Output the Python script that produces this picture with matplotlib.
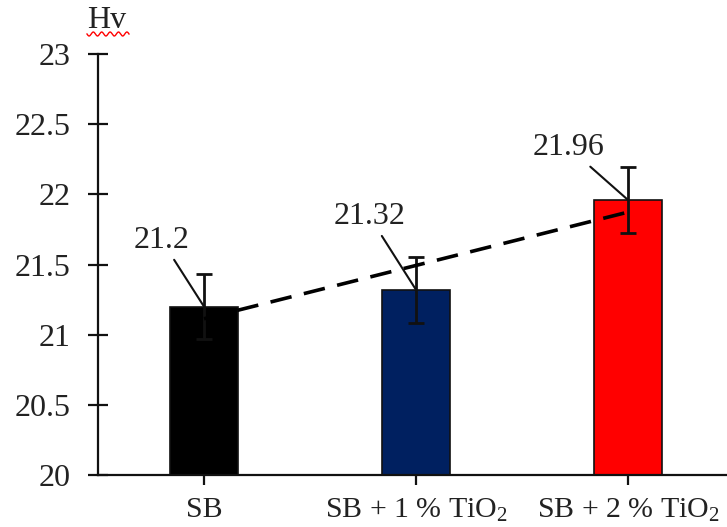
import numpy as np
import matplotlib
matplotlib.use("Agg")
import matplotlib.pyplot as plt

categories = ["SB", "SB + 1 % TiO$_2$", "SB + 2 % TiO$_2$"]
values = [21.2, 21.32, 21.96]
errors = [0.23, 0.235, 0.235]
colors = ["#000000", "#002060", "#FF0000"]
value_labels = ["21.2", "21.32", "21.96"]
yticks = [20, 20.5, 21, 21.5, 22, 22.5, 23]
ytick_labels = ["20", "20.5", "21", "21.5", "22", "22.5", "23"]

plt.rcParams["font.family"] = ["Liberation Serif", "DejaVu Serif"]
plt.rcParams["mathtext.fontset"] = "custom"
plt.rcParams["mathtext.rm"] = "Liberation Serif"
plt.rcParams["mathtext.it"] = "Liberation Serif:italic"

W, H = 727, 527
fig = plt.figure(figsize=(W / 100, H / 100), dpi=100)
ax = fig.add_axes([98 / W, 1 - 475 / H, 1 - 98 / W, (475 - 54) / H])

x = np.arange(len(categories))
ax.bar(x, values, width=0.32, color=colors, edgecolor="#111111", linewidth=1.2, zorder=2)
ax.errorbar(x, values, yerr=errors, fmt="none", ecolor="#111111", elinewidth=2,
            capsize=5.5, capthick=2, zorder=3)

# linear trendline
coef = np.polyfit(x, values, 1)
tx = np.array([x[0], x[-1]])
ax.plot(tx, np.polyval(coef, tx), linestyle=(0, (6, 3.5)), color="black", lw=2.6, zorder=4)

ax.set_xlim(-0.5, 2.467)
ax.set_ylim(20, 23)
ax.set_yticks(yticks)
ax.set_yticklabels(ytick_labels)
ax.set_xticks(x)
ax.set_xticklabels(categories)

for s in ["top", "right"]:
    ax.spines[s].set_visible(False)
for s in ["left", "bottom"]:
    ax.spines[s].set_linewidth(1.6)
    ax.spines[s].set_color("#111111")

ax.tick_params(axis="y", direction="inout", length=14, width=1.6, pad=13,
               labelsize=23, colors="#111111", labelcolor="#222222")
ax.tick_params(axis="x", direction="out", length=7, width=1.6, pad=9,
               labelsize=21.5, colors="#111111", labelcolor="#222222")

# value labels with leader lines
offsets = [(-0.2, 0.37), (-0.22, 0.42), (-0.28, 0.27)]
for xi, v, lab, (dx, dy) in zip(x, values, value_labels, offsets):
    ax.annotate(lab, xy=(xi, v), xytext=(xi + dx, v + dy),
                ha="center", va="bottom", fontsize=23, color="#222222",
                arrowprops=dict(arrowstyle="-", color="#111111", lw=1.5,
                                shrinkA=2, shrinkB=0),
                zorder=5)

# axis title
fig.text(107 / W, 1 - 20 / H, "Hv", ha="center", va="center", fontsize=23, color="#222222")
wx = np.linspace(87, 129, 200)
wy = 34 + 2 * np.sin((wx - 87) / 42 * 2 * np.pi * 5)
fig.add_artist(plt.Line2D(wx / W, 1 - wy / H, color="red", lw=1.0))

fig.savefig("out.png", dpi=100)
